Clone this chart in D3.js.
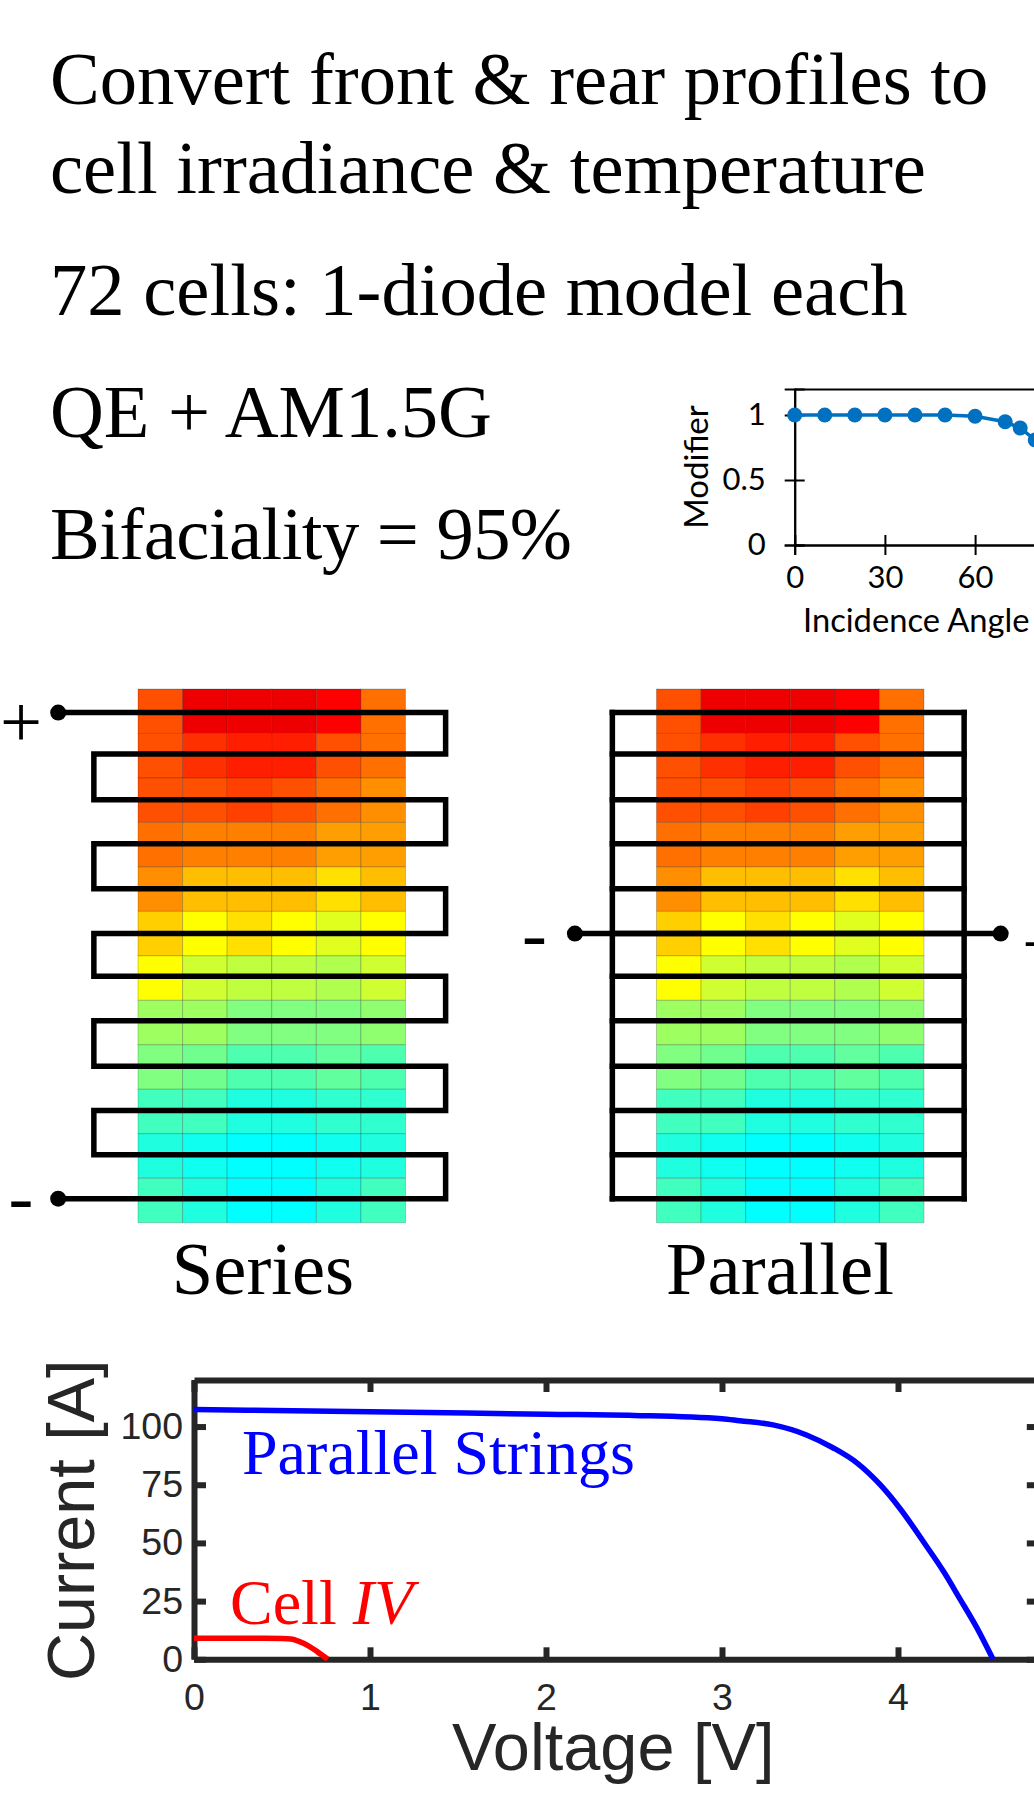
<!DOCTYPE html>
<html>
<head>
<meta charset="utf-8">
<script src="https://cdnjs.cloudflare.com/ajax/libs/d3/7.8.5/d3.min.js"></script>
<style>
    html, body { margin: 0; padding: 0; background: #fff; overflow: hidden; }
    svg { display: block; }
    .serif { font-family: "Liberation Serif", serif; }
    .lato { font-family: Lato, sans-serif; }
    .arial { font-family: "Liberation Sans", sans-serif; }
</style>
</head>
<body>
<div id="chart"></div>
<script>
// Heat level of each module cell: 0 = cyan, 1 = yellow, 2 = red
var cellLevels = [
    [1.69, 2.07, 2.07, 2.07, 2.00, 1.56],
    [1.69, 1.81, 1.88, 1.88, 1.69, 1.56],
    [1.69, 1.69, 1.75, 1.69, 1.56, 1.44],
    [1.56, 1.50, 1.50, 1.50, 1.38, 1.38],
    [1.44, 1.25, 1.25, 1.25, 1.12, 1.25],
    [1.19, 1.00, 1.12, 1.00, 0.88, 1.00],
    [1.00, 0.81, 0.75, 0.75, 0.69, 0.81],
    [0.62, 0.62, 0.50, 0.50, 0.50, 0.56],
    [0.50, 0.44, 0.31, 0.31, 0.38, 0.31],
    [0.25, 0.25, 0.12, 0.12, 0.19, 0.19],
    [0.12, 0.06, 0.00, 0.00, 0.06, 0.12],
    [0.25, 0.12, 0.00, 0.00, 0.12, 0.25]
];
var levelStops = [0, 1, 2, 2.07];
var levelColors = ["#00ffff", "#ffff00", "#ff0000", "#ee0000"];

// Where the wires cross the module, in cell units
var wireRows = [0.53, 1.46, 2.49, 3.48, 4.49, 5.50, 6.46, 7.46, 8.48, 9.48, 10.47, 11.46];
var wireLeft = -0.99, wireRight = 6.9;
var seriesDotCol = -1.79;
var parallelDotCols = [-1.83, 7.72];
var parallelTapRow = 5;

// Incidence angle modifier
var iamAngle = [0, 10, 20, 30, 40, 50, 60, 70, 75, 80, 85, 90];
var iamValue = [1, 1, 1, 1, 1, 1, 0.99, 0.948, 0.90, 0.808, 0.55, 0];
var iamXTicks = [0, 30, 60, 90];
var iamYTicks = [0, 0.5, 1];

// IV curves
var stringVolt = [0, 1, 2, 2.5, 3, 3.1, 3.29, 3.48, 3.63, 3.77, 3.9, 4.01, 4.16, 4.26, 4.35, 4.45, 4.54];
var stringAmp = [107.3, 106.4, 105.3, 104.8, 103.4, 102.5, 100.7, 96.4, 90.9, 84.2, 74.9, 64.9, 48.8, 37.6, 26.2, 13.3, 0];
var cellVolt = [0, 0.4, 0.5, 0.55, 0.6, 0.65, 0.7, 0.76];
var cellAmp = [9, 9, 8.9, 8.7, 7.6, 5.8, 3.3, 0];
var ivXTicks = [0, 1, 2, 3, 4];
var ivYTicks = [0, 25, 50, 75, 100];

var headings = [
    {text: "Convert front & rear profiles to", x: 50, y: 104},
    {text: "cell irradiance & temperature", x: 50, y: 193},
    {text: "72 cells: 1-diode model each", x: 50, y: 315},
    {text: "QE + AM1.5G", x: 50, y: 437},
    {text: "Bifaciality = 95%", x: 50, y: 559, length: 522}
];

var svg = d3.select("#chart").append("svg")
    .attr("width", 1034)
    .attr("height", 1811);

svg.selectAll("text.heading")
    .data(headings)
    .enter().append("text")
    .attr("class", "heading serif")
    .attr("x", function(d) { return d.x; })
    .attr("y", function(d) { return d.y; })
    .attr("textLength", function(d) { return d.length || null; })
    .style("font-size", "74.6px")
    .text(function(d) { return d.text; });

var color = d3.scaleLinear().domain(levelStops).range(levelColors);

function drawModule(left) {
    var x = d3.scaleLinear().domain([0, 6]).range([left, left + 267.5]);
    var y = d3.scaleLinear().domain([0, 12]).range([689, 1222.7]);

    var g = svg.append("g");
    var rows = g.selectAll("g.row")
        .data(cellLevels)
        .enter().append("g")
        .attr("class", "row");

    rows.selectAll("rect")
        .data(function(d, i) { return d.map(function(v, j) { return {v: v, row: i, col: j}; }); })
        .enter().append("rect")
        .attr("x", function(d) { return x(d.col); })
        .attr("y", function(d) { return y(d.row); })
        .attr("width", x(1) - x(0))
        .attr("height", y(1) - y(0))
        .attr("fill", function(d) { return color(d.v); })
        .attr("stroke", "rgba(0,0,0,0.2)")
        .attr("stroke-width", 1);

    return {x: x, y: y, g: g};
}

function wire(g, pts, m) {
    var line = d3.line()
        .x(function(d) { return m.x(d[0]); })
        .y(function(d) { return m.y(d[1]); });
    g.append("path")
        .attr("d", line(pts))
        .attr("fill", "none")
        .attr("stroke", "#000")
        .attr("stroke-width", 5.5)
        .attr("stroke-linecap", "square")
        .attr("stroke-linejoin", "miter");
}

function dot(g, col, row, m) {
    g.append("circle")
        .attr("cx", m.x(col))
        .attr("cy", m.y(row))
        .attr("r", 8)
        .attr("fill", "#000");
}

function bigLabel(text, x, y, anchor) {
    svg.append("text")
        .attr("class", "serif")
        .attr("x", x)
        .attr("y", y)
        .attr("text-anchor", anchor)
        .style("font-size", "74.6px")
        .text(text);
}

// Series wiring
var series = drawModule(138);
var seriesPts = [[seriesDotCol, wireRows[0]]];
wireRows.forEach(function(r, i) {
    var a = i % 2 === 0 ? wireLeft : wireRight;
    var b = i % 2 === 0 ? wireRight : wireLeft;
    if (i > 0) seriesPts.push([a, r]);
    seriesPts.push([b, r]);
});
seriesPts[seriesPts.length - 1] = [seriesDotCol, wireRows[wireRows.length - 1]];
wire(series.g, seriesPts, series);
dot(series.g, seriesDotCol, wireRows[0], series);
dot(series.g, seriesDotCol, wireRows[wireRows.length - 1], series);

// Parallel wiring
var parallel = drawModule(656.5);
wireRows.forEach(function(r) {
    wire(parallel.g, [[wireLeft, r], [wireRight, r]], parallel);
});
wire(parallel.g, [[wireLeft, wireRows[0]], [wireLeft, wireRows[11]]], parallel);
wire(parallel.g, [[wireRight, wireRows[0]], [wireRight, wireRows[11]]], parallel);
wire(parallel.g, [[parallelDotCols[0], wireRows[parallelTapRow]], [parallelDotCols[1], wireRows[parallelTapRow]]], parallel);
dot(parallel.g, parallelDotCols[0], wireRows[parallelTapRow], parallel);
dot(parallel.g, parallelDotCols[1], wireRows[parallelTapRow], parallel);

bigLabel("+", 21, 747, "middle");
bigLabel("-", 21, 1222, "middle");
bigLabel("-", 534.5, 959, "middle");
bigLabel("+", 1043, 969, "middle");
bigLabel("Series", 263, 1294, "middle");
bigLabel("Parallel", 780, 1294, "middle");

// Incidence angle inset
var iamX = d3.scaleLinear().domain([0, 90]).range([794.7, 1065.3]);
var iamY = d3.scaleLinear().domain([0, 1.2]).range([545, 389]);
var iam = svg.append("g").attr("class", "lato");

iam.append("g")
    .attr("transform", "translate(0,545)")
    .call(d3.axisBottom(iamX).tickValues(iamXTicks).tickSize(10).tickPadding(11));
iam.append("g")
    .attr("transform", "translate(0,545)")
    .call(d3.axisTop(iamX).tickValues(iamXTicks).tickSize(10).tickFormat(""));
iam.append("g")
    .attr("transform", "translate(794.7,0)")
    .call(d3.axisLeft(iamY).tickValues(iamYTicks).tickSize(10).tickPadding(19).tickFormat(d3.format("")));
iam.append("g")
    .attr("transform", "translate(794.7,0)")
    .call(d3.axisRight(iamY).tickValues(iamYTicks).tickSize(10).tickFormat(""));
iam.append("g")
    .attr("transform", "translate(0,389)")
    .call(d3.axisTop(iamX).tickValues([]).tickSizeOuter(0));

iam.selectAll("path.domain").attr("stroke", "#000").attr("stroke-width", 2);
iam.selectAll(".tick line").attr("stroke", "#000").attr("stroke-width", 2);
iam.selectAll(".tick text").attr("fill", "#000").style("font-size", "31px").style("font-family", "Lato, sans-serif");

var iamPts = iamAngle.map(function(a, i) { return [a, iamValue[i]]; });
var iamLine = d3.line()
    .x(function(d) { return iamX(d[0]); })
    .y(function(d) { return iamY(d[1]); });
iam.append("path")
    .attr("d", iamLine(iamPts))
    .attr("fill", "none")
    .attr("stroke", "#0070c0")
    .attr("stroke-width", 3.5);
iam.selectAll("circle")
    .data(iamPts)
    .enter().append("circle")
    .attr("cx", function(d) { return iamX(d[0]); })
    .attr("cy", function(d) { return iamY(d[1]); })
    .attr("r", 7.5)
    .attr("fill", "#0070c0");

iam.append("text")
    .attr("x", 803)
    .attr("y", 632)
    .style("font-size", "32.7px")
    .text("Incidence Angle");
iam.append("text")
    .attr("transform", "translate(708,467) rotate(-90)")
    .attr("text-anchor", "middle")
    .style("font-size", "33px")
    .text("Modifier");

// IV chart
var ivX = d3.scaleLinear().domain([0, 4.8]).range([194, 1038.8]);
var ivY = d3.scaleLinear().domain([0, 120]).range([1659.3, 1380]);
var iv = svg.append("g").attr("class", "arial");

iv.append("g")
    .attr("transform", "translate(0,1659.3)")
    .call(d3.axisBottom(ivX).tickValues(ivXTicks).tickSizeInner(-12).tickSizeOuter(0).tickPadding(24).tickFormat(d3.format("d")));
iv.append("g")
    .attr("transform", "translate(0,1380)")
    .call(d3.axisTop(ivX).tickValues(ivXTicks).tickSizeInner(-12).tickSizeOuter(0).tickFormat(""));
iv.append("g")
    .attr("transform", "translate(194,0)")
    .call(d3.axisLeft(ivY).tickValues(ivYTicks).tickSizeInner(-12).tickSizeOuter(0).tickPadding(11));
iv.append("g")
    .attr("transform", "translate(1038.8,0)")
    .call(d3.axisRight(ivY).tickValues(ivYTicks).tickSizeInner(-12).tickSizeOuter(0).tickFormat(""));

iv.selectAll("path.domain").attr("stroke", "#262626").attr("stroke-width", 6);
iv.selectAll(".tick line").attr("stroke", "#262626").attr("stroke-width", 6);
iv.selectAll(".tick text")
    .attr("fill", "#262626")
    .style("font-size", "37.5px")
    .style("font-family", "'Liberation Sans', sans-serif");

var ivLine = d3.line()
    .x(function(d) { return ivX(d[0]); })
    .y(function(d) { return ivY(d[1]); })
    .curve(d3.curveMonotoneX);

function ivCurve(volts, amps, stroke) {
    iv.append("path")
        .attr("d", ivLine(volts.map(function(v, i) { return [v, amps[i]]; })))
        .attr("fill", "none")
        .attr("stroke", stroke)
        .attr("stroke-width", 5.5);
}
ivCurve(stringVolt, stringAmp, "#0000ff");
ivCurve(cellVolt, cellAmp, "#ff0000");

svg.append("text")
    .attr("class", "serif")
    .attr("x", 242)
    .attr("y", 1474)
    .attr("fill", "#0000ff")
    .style("font-size", "64px")
    .text("Parallel Strings");

var cellLabel = svg.append("text")
    .attr("class", "serif")
    .attr("x", 230)
    .attr("y", 1624)
    .attr("fill", "#ff0000")
    .style("font-size", "64px");
cellLabel.append("tspan").text("Cell ");
cellLabel.append("tspan").style("font-style", "italic").text("IV");

iv.append("text")
    .attr("x", 452)
    .attr("y", 1770)
    .attr("fill", "#262626")
    .style("font-size", "66.7px")
    .text("Voltage [V]");
iv.append("text")
    .attr("transform", "translate(94,1681) rotate(-90)")
    .attr("fill", "#262626")
    .style("font-size", "66.5px")
    .text("Current [A]");
</script>
</body>
</html>
